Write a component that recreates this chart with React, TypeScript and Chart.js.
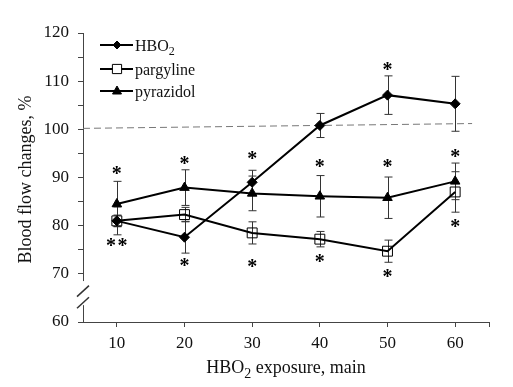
import React, { useEffect, useRef } from 'react';
import { Chart, registerables } from 'chart.js';
Chart.register(...registerables);

// exposure time, minutes
const minutes = [10, 20, 30, 40, 50, 60];
// blood flow changes, %
const hbo2 = [81.0, 77.6, 89.0, 100.8, 107.1, 105.3];
const hbo2Err = [2.9, 3.3, 2.5, 2.5, 4.0, 5.7];
const pargyline = [81.0, 82.3, 78.5, 77.2, 74.7, 87.0];
const pargylineErr = [1.2, 1.5, 2.3, 1.6, 2.3, 4.2];
const pyrazidol = [84.5, 87.9, 86.7, 86.1, 85.8, 89.2];
const pyrazidolErr = [4.7, 3.7, 3.6, 4.3, 4.3, 3.8];
// reference (baseline) dashed line
const refX = [5, 62.5];
const refY = [100.2, 101.2];
// significance marks
const starX = [9.15, 10.85, 10, 20, 20, 30, 30, 40, 40, 50, 50, 50, 60, 60];
const starY = [76.5, 76.5, 91.5, 93.5, 72.4, 94.6, 72.2, 92.9, 73.1, 113.1, 92.9, 70.1, 95.0, 80.4];
// ticks
const xTickValues = [10, 20, 30, 40, 50, 60, 65];
const yTickValues = [60, 70, 75, 80, 85, 90, 95, 100, 105, 110, 115, 120];
// labels
const legendLabels: [string, string][] = [['HBO', '2'], ['pargyline', ''], ['pyrazidol', '']];
const xTitle: [string, boolean][] = [['HBO', false], ['2', true], [' exposure, main', false]];
const yTitle = 'Blood flow changes, %';

const FONT = 'Liberation Serif';

function drawRich(ctx: CanvasRenderingContext2D, parts: [string, boolean][], x: number, y: number, size: number, align: 'left' | 'center') {
  ctx.textBaseline = 'alphabetic';
  ctx.textAlign = 'left';
  const subSize = Math.round(size * 0.78);
  let total = 0;
  for (const [t, sub] of parts) {
    ctx.font = `${sub ? subSize : size}px "${FONT}"`;
    total += ctx.measureText(t).width;
  }
  let cx = align === 'center' ? x - total / 2 : x;
  for (const [t, sub] of parts) {
    ctx.font = `${sub ? subSize : size}px "${FONT}"`;
    ctx.fillText(t, cx, sub ? y + size * 0.28 : y);
    cx += ctx.measureText(t).width;
  }
}

const seriesStyles = [
  { data: hbo2, err: hbo2Err, style: 'rectRot', radius: 5, fill: '#000' },
  { data: pargyline, err: pargylineErr, style: 'rect', radius: 7, fill: 'rgba(0,0,0,0)' },
  { data: pyrazidol, err: pyrazidolErr, style: 'triangle', radius: 5.5, fill: '#000' },
];

function drawMarker(ctx: CanvasRenderingContext2D, style: string, r: number, x: number, y: number, open: boolean) {
  ctx.beginPath();
  if (style === 'rectRot') {
    ctx.moveTo(x - r, y); ctx.lineTo(x, y - r); ctx.lineTo(x + r, y); ctx.lineTo(x, y + r); ctx.closePath();
  } else if (style === 'rect') {
    const s = r * Math.SQRT1_2;
    ctx.rect(x - s, y - s, 2 * s, 2 * s);
  } else {
    ctx.moveTo(x, y - r); ctx.lineTo(x + r * 0.9, y + r * 0.6); ctx.lineTo(x - r * 0.9, y + r * 0.6); ctx.closePath();
  }
  ctx.strokeStyle = '#000';
  ctx.fillStyle = open ? '#fff' : '#000';
  ctx.fill();
  ctx.stroke();
}

const overlay = {
  id: 'overlay',
  beforeDatasetsDraw(chart: any) {
    const { ctx, scales } = chart;
    const xs = scales.x, ys = scales.y;
    ctx.save();
    ctx.strokeStyle = '#333';
    ctx.lineWidth = 1;
    for (const s of seriesStyles) {
      minutes.forEach((m, i) => {
        const px = Math.round(xs.getPixelForValue(m)) + 0.5;
        const top = ys.getPixelForValue(s.data[i] + s.err[i]);
        const bot = ys.getPixelForValue(s.data[i] - s.err[i]);
        ctx.beginPath();
        ctx.moveTo(px, top); ctx.lineTo(px, bot);
        ctx.moveTo(px - 4, top); ctx.lineTo(px + 4, top);
        ctx.moveTo(px - 4, bot); ctx.lineTo(px + 4, bot);
        ctx.stroke();
      });
    }
    ctx.restore();
  },
  afterDraw(chart: any) {
    const { ctx, scales, chartArea } = chart;
    const xs = scales.x, ys = scales.y;
    ctx.save();
    // axis break
    const ax = chartArea.left;
    const b1 = ys.getPixelForValue(68.5), b2 = ys.getPixelForValue(63.5);
    ctx.fillStyle = '#fff';
    ctx.fillRect(ax - 2, b1, 4, b2 - b1);
    ctx.strokeStyle = '#333';
    ctx.lineWidth = 1.5;
    for (const v of [66.4, 64.0]) {
      const cy = ys.getPixelForValue(v);
      ctx.beginPath();
      ctx.moveTo(ax - 6, cy + 5.5);
      ctx.lineTo(ax + 6, cy - 5.5);
      ctx.stroke();
    }
    // stars
    ctx.fillStyle = '#000';
    ctx.font = `bold 20px "${FONT}"`;
    ctx.textAlign = 'center';
    ctx.textBaseline = 'alphabetic';
    starX.forEach((sx, i) => {
      const px = xs.getPixelForValue(sx);
      const py = ys.getPixelForValue(starY[i]);
      ctx.fillText('*', px, py + 20 * 0.47);
    });
    // legend
    const lx = chartArea.left + 17;
    const rowsY = [chartArea.top + 12, chartArea.top + 36, chartArea.top + 58];
    legendLabels.forEach(([t, sub], i) => {
      const y = rowsY[i];
      ctx.strokeStyle = '#000';
      ctx.lineWidth = 2;
      ctx.beginPath();
      ctx.moveTo(lx, y); ctx.lineTo(lx + 33, y);
      ctx.stroke();
      const st = seriesStyles[i];
      ctx.lineWidth = 1;
      const mr = i === 0 ? 4 : i === 1 ? 6.5 : 5;
      drawMarker(ctx, st.style, mr, lx + 17, y, i === 1);
      ctx.fillStyle = '#111';
      drawRich(ctx, sub ? [[t, false], [sub, true]] : [[t, false]], lx + 35, y + 5.5, 16, 'left');
    });
    // axis titles
    ctx.fillStyle = '#111';
    drawRich(ctx, xTitle, (chartArea.left + chartArea.right) / 2, 373, 18, 'center');
    ctx.translate(31, (chartArea.top + chartArea.bottom) / 2 + 2);
    ctx.rotate(-Math.PI / 2);
    ctx.font = `18px "${FONT}"`;
    ctx.textAlign = 'center';
    ctx.textBaseline = 'alphabetic';
    ctx.fillText(yTitle, 0, 0);
    ctx.restore();
  },
};

export default function App() {
  const ref = useRef<HTMLCanvasElement>(null);
  useEffect(() => {
    if (!ref.current) return;
    const ds = seriesStyles.map((s, k) => ({
      label: ['HBO2', 'pargyline', 'pyrazidol'][k],
      data: minutes.map((m, i) => ({ x: m, y: s.data[i] })),
      borderColor: '#000',
      borderWidth: 2,
      pointStyle: s.style,
      pointRadius: s.radius,
      pointBackgroundColor: s.fill,
      pointBorderColor: '#000',
      pointBorderWidth: 1,
      tension: 0,
      order: k,
    }));
    const chart = new Chart(ref.current, {
      type: 'line',
      data: {
        datasets: [
          {
            label: 'baseline',
            data: refX.map((x, i) => ({ x, y: refY[i] })),
            borderColor: '#777',
            borderWidth: 1,
            borderDash: [7, 4],
            pointRadius: 0,
            order: 10,
          } as any,
          ...(ds as any[]),
        ],
      },
      options: {
        responsive: false,
        animation: false,
        events: [],
        layout: { padding: { top: 33, right: 24, left: 0, bottom: 0 } },
        plugins: { legend: { display: false }, tooltip: { enabled: false } },
        scales: {
          x: {
            type: 'linear',
            min: 5,
            max: 65,
            afterBuildTicks: (scale: any) => { scale.ticks = xTickValues.map((v) => ({ value: v })); },
            afterFit: (scale: any) => { scale.height = 65; },
            border: { display: true, color: '#444', width: 1 },
            grid: { display: true, drawOnChartArea: false, drawTicks: true, tickLength: 5, color: '#444' },
            ticks: {
              autoSkip: false,
              maxRotation: 0,
              padding: 6,
              color: '#111',
              font: { family: FONT, size: 17 },
              callback: (v: any) => (Number(v) <= 60 ? String(v) : ''),
            },
          },
          y: {
            type: 'linear',
            min: 60,
            max: 120,
            afterBuildTicks: (scale: any) => { scale.ticks = yTickValues.map((v) => ({ value: v })); },
            afterFit: (scale: any) => { scale.width = 83; },
            border: { display: true, color: '#444', width: 1 },
            grid: { display: true, drawOnChartArea: false, drawTicks: true, tickLength: 5, color: '#444' },
            ticks: {
              autoSkip: false,
              padding: 9,
              color: '#111',
              font: { family: FONT, size: 17 },
              callback: (v: any) => (Number(v) % 10 === 0 ? String(v) : ''),
            },
          },
        },
      },
      plugins: [overlay as any],
    });
    return () => chart.destroy();
  }, []);
  return (
    <div style={{ position: 'absolute', left: 0, top: 0, width: 513, height: 387, background: '#fff' }}>
      <canvas ref={ref} width={513} height={387} style={{ display: 'block' }} />
    </div>
  );
}
